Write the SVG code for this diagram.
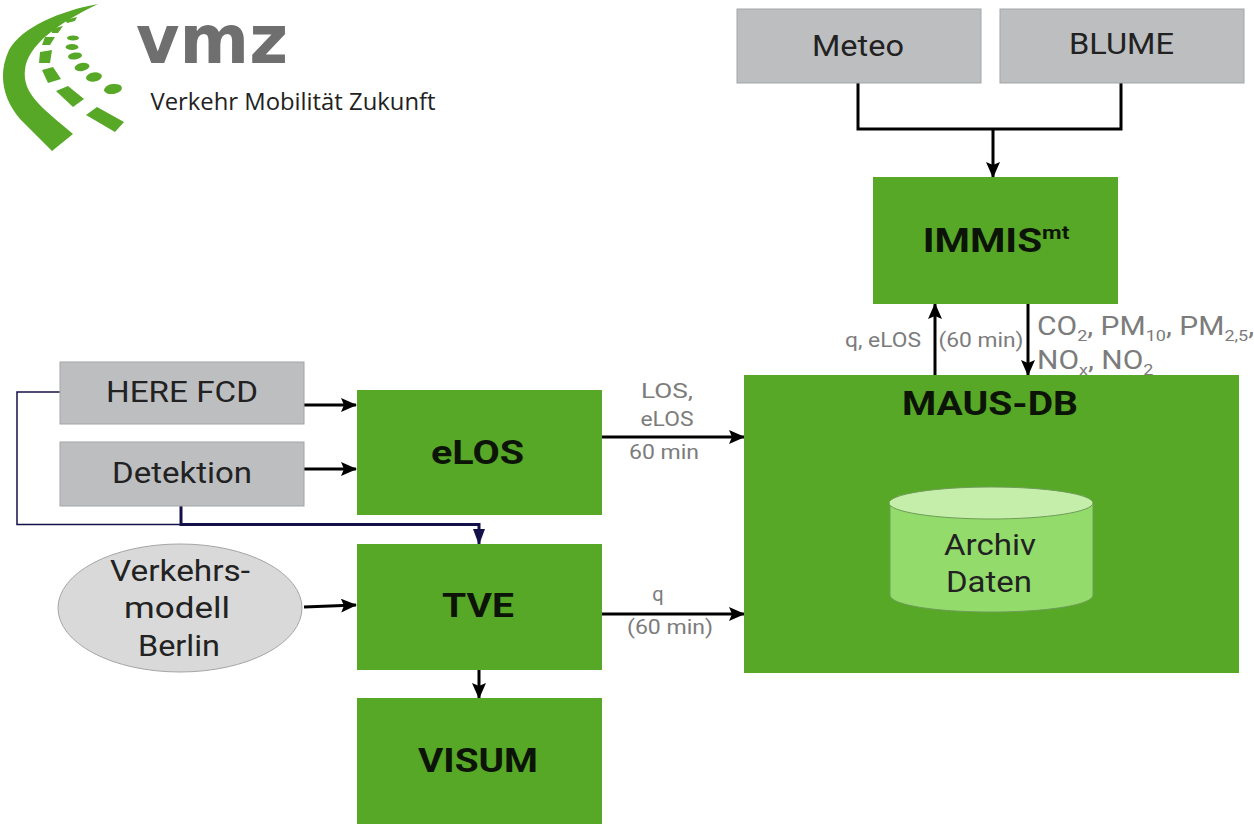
<svg xmlns="http://www.w3.org/2000/svg" width="1254" height="830" viewBox="0 0 1254 830">
<style>
text{font-family:Roboto,"Liberation Sans",sans-serif;text-anchor:middle}
.g{fill:#57a826}
.s{fill:#bdbec0;stroke:#a3a5a7;stroke-width:1}
.n{font-size:29px;fill:#222}
.b{font-size:34px;font-weight:700;fill:#0c1408}
.l{font-size:20px;fill:#7c7c7c}
.f{font-size:25px;fill:#7c7c7c;text-anchor:start}
.sub{font-size:15px}
.c{fill:none;stroke:#000;stroke-width:3}
.d{fill:none;stroke:#14104a}
.lg{fill:#57a826}
</style>
<defs>
<marker id="a" markerUnits="userSpaceOnUse" markerWidth="16" markerHeight="14" refX="15" refY="7" orient="auto"><path d="M0 0L16 7L0 14L3 7Z" fill="#000"/></marker>
<marker id="b" markerUnits="userSpaceOnUse" markerWidth="16" markerHeight="14" refX="15" refY="7" orient="auto"><path d="M0 1L16 7L0 13Z" fill="#14104a"/></marker>
</defs>
<g id="logo">
<path class="lg" d="M98 4C60 11 22 27 9 50C-3 76 4 100 20 119L52 151L73 134C45 110 22 95 25 70C27 45 60 22 98 4Z"/>
<path class="lg" d="M65 20L77 17L75 21L67 23Z M51 29L63 26L58 33L52 33Z M45 37L55 37L50 45L42 45Z M40 52L52 50L50 63L39 63Z M42 70L53 67L61 79L48 83Z M56 91L68 86L84 99L73 107Z M86 115L97 107L124 122L115 132Z"/>
<ellipse class="lg" cx="73" cy="38" rx="6" ry="2.500"/>
<ellipse class="lg" cx="72" cy="47" rx="6.500" ry="3"/>
<ellipse class="lg" cx="75" cy="56" rx="7" ry="3.500" transform="rotate(-8 75 56)"/>
<ellipse class="lg" cx="82" cy="67" rx="7.500" ry="4" transform="rotate(-10 82 67)"/>
<ellipse class="lg" cx="94" cy="77" rx="8" ry="4.500" transform="rotate(-10 94 77)"/>
<ellipse class="lg" cx="113" cy="89" rx="9" ry="5" transform="rotate(-8 113 89)"/>
<text x="212" y="63" font-size="67" font-weight="700" fill="#6f6f6f" textLength="152" lengthAdjust="spacingAndGlyphs" style="font-family:'DejaVu Sans',sans-serif">vmz</text>
<text x="293" y="110" font-size="24" fill="#222" textLength="285" lengthAdjust="spacingAndGlyphs" style="font-family:'Open Sans',sans-serif">Verkehr Mobilität Zukunft</text>
</g>
<g id="connectors">
<path class="c" d="M858 83V129H1121V83M993 129V177" marker-end="url(#a)"/>
<path class="c" d="M935 375V304" marker-end="url(#a)"/>
<path class="c" d="M1028 304V375" marker-end="url(#a)"/>
<path class="c" d="M304 405H356" marker-end="url(#a)"/>
<path class="c" d="M304 469H356" marker-end="url(#a)"/>
<path class="c" d="M304 607L356 605" marker-end="url(#a)"/>
<path class="c" d="M601 437H744" marker-end="url(#a)"/>
<path class="c" d="M601 614H744" marker-end="url(#a)"/>
<path class="c" d="M479 670V698" marker-end="url(#a)"/>
<path class="d" stroke-width="1.500" d="M60 392H17V524.500H181"/>
<path class="d" stroke-width="3" d="M181 506V524.500H479V544" marker-end="url(#b)"/>
</g>
<g id="meteo"><rect class="s" x="737" y="9" width="244" height="74"/><text class="n" x="858" y="56" textLength="92" lengthAdjust="spacingAndGlyphs">Meteo</text></g>
<g id="blume"><rect class="s" x="1000" y="9" width="244" height="74"/><text class="n" x="1121.500" y="54" textLength="105" lengthAdjust="spacingAndGlyphs">BLUME</text></g>
<g id="immis"><rect class="g" x="873" y="177" width="245" height="127"/><text class="b" transform="translate(996 252) scale(1.19 1)">IMMIS<tspan font-size="19" dy="-13">mt</tspan></text></g>
<g id="maus-db">
<rect class="g" x="744" y="375" width="495" height="298"/>
<text class="b" x="990" y="415" textLength="176" lengthAdjust="spacingAndGlyphs">MAUS-DB</text>
</g>
<g id="archiv">
<path d="M890 504V595C890 605 935 612 991 612S1093 605 1093 595V504Z" fill="#93dc6c" stroke="#6f9c58"/>
<ellipse cx="991" cy="503" rx="102" ry="16" fill="#c4eeaa" stroke="#6f9c58"/>
<text class="n" x="990" y="555" textLength="92" lengthAdjust="spacingAndGlyphs">Archiv</text>
<text class="n" x="989" y="592" textLength="86" lengthAdjust="spacingAndGlyphs">Daten</text>
</g>
<g id="here-fcd"><rect class="s" x="60" y="362" width="244" height="62"/><text class="n" x="182" y="402" textLength="152" lengthAdjust="spacingAndGlyphs">HERE FCD</text></g>
<g id="detektion"><rect class="s" x="60" y="442" width="244" height="64"/><text class="n" x="182" y="483" textLength="140" lengthAdjust="spacingAndGlyphs">Detektion</text></g>
<g id="elos"><rect class="g" x="357" y="390" width="245" height="125"/><text class="b" x="477.500" y="464" textLength="93" lengthAdjust="spacingAndGlyphs">eLOS</text></g>
<g id="tve"><rect class="g" x="357" y="544" width="245" height="126"/><text class="b" x="478" y="617" textLength="72" lengthAdjust="spacingAndGlyphs">TVE</text></g>
<g id="visum"><rect class="g" x="357" y="698" width="245" height="126"/><text class="b" x="478" y="772" textLength="120" lengthAdjust="spacingAndGlyphs">VISUM</text></g>
<g id="verkehrsmodell">
<ellipse cx="180" cy="608" rx="122" ry="64" fill="#d9d9d9" stroke="#a3a5a7"/>
<text class="n" x="180" y="581" textLength="140" lengthAdjust="spacingAndGlyphs">Verkehrs-</text>
<text class="n" x="177" y="618" textLength="106" lengthAdjust="spacingAndGlyphs">modell</text>
<text class="n" x="179" y="656" textLength="82" lengthAdjust="spacingAndGlyphs">Berlin</text>
</g>
<g id="labels">
<text class="l" x="883" y="347" textLength="76" lengthAdjust="spacingAndGlyphs">q, eLOS</text>
<text class="l" x="981" y="347" textLength="85" lengthAdjust="spacingAndGlyphs">(60 min)</text>
<text class="f" transform="translate(1037 335) scale(1.2 1)">CO<tspan class="sub" dy="6">2</tspan><tspan dy="-6">, PM</tspan><tspan class="sub" dy="6">10</tspan><tspan dy="-6">, PM</tspan><tspan class="sub" dy="6">2,5</tspan><tspan dy="-6">,</tspan></text>
<text class="f" transform="translate(1037 369) scale(1.2 1)">NO<tspan class="sub" dy="6">x</tspan><tspan dy="-6">, NO</tspan><tspan class="sub" dy="6">2</tspan></text>
<text class="l" x="667" y="398" textLength="52" lengthAdjust="spacingAndGlyphs">LOS,</text>
<text class="l" x="667" y="426" textLength="53" lengthAdjust="spacingAndGlyphs">eLOS</text>
<text class="l" x="664" y="459" textLength="70" lengthAdjust="spacingAndGlyphs">60 min</text>
<text class="l" x="658" y="601">q</text>
<text class="l" x="670" y="634" textLength="86" lengthAdjust="spacingAndGlyphs">(60 min)</text>
</g>
</svg>
